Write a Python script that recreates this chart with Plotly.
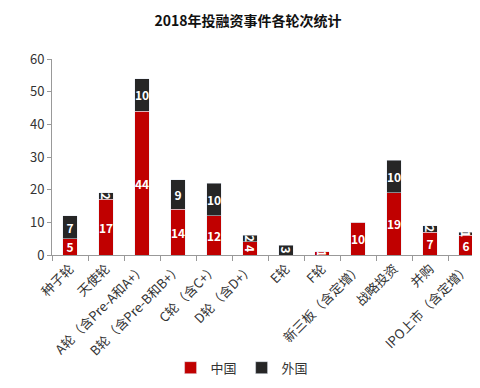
import plotly.graph_objects as go

categories = ["种子轮", "天使轮", "A轮（含Pre-A和A+）", "B轮（含Pre-B和B+）", "C轮（含C+）",
              "D轮（含D+）", "E轮", "F轮", "新三板（含定增）", "战略投资", "并购", "IPO上市（含定增）"]
china = [5, 17, 44, 14, 12, 4, 0, 1, 10, 19, 7, 6]
foreign = [7, 2, 10, 9, 10, 2, 3, 0, 0, 10, 2, 1]
y_ticks = [0, 10, 20, 30, 40, 50, 60]

FONT = "Noto Sans CJK SC"

fig = go.Figure()
fig.add_trace(go.Bar(x=categories, y=china, name="中国", marker_color="#C00000",
                     text=[str(v) if v else "" for v in china], textposition="inside",
                     insidetextanchor="middle",
                     textfont=dict(color="white", size=12, family=FONT, weight="bold")))
fig.add_trace(go.Bar(x=categories, y=foreign, name="外国", marker_color="#262626",
                     text=[str(v) if v else "" for v in foreign], textposition="inside",
                     insidetextanchor="middle",
                     textfont=dict(color="white", size=12, family=FONT, weight="bold")))

fig.update_layout(
    barmode="stack",
    bargap=0.6,
    width=480, height=388,
    margin=dict(l=44, r=4, t=51, b=141),
    paper_bgcolor="white", plot_bgcolor="white",
    font=dict(family=FONT, size=13, color="#333333"),
    title=dict(text="<b>2018年投融资事件各轮次统计</b>", x=0.5, xanchor="center", y=0.965,
               yanchor="middle", font=dict(size=14, color="#111111", family=FONT)),
    legend=dict(orientation="h", x=0.44, xanchor="center", y=-0.575, yanchor="middle",
                traceorder="normal", font=dict(size=13, color="#333333"), itemwidth=30),
    uniformtext=dict(minsize=12, mode="show"),
    showlegend=True,
)
fig.update_xaxes(showline=True, linecolor="#999999", ticks="outside", tickson="boundaries",
                 ticklen=5, tickcolor="#999999", tickangle=-45, tickfont=dict(size=13, color="#333333"))
fig.update_yaxes(range=[0, 60], tickvals=y_ticks, showline=True, linecolor="#999999",
                 ticks="outside", ticklen=4, tickcolor="#999999", showgrid=False, zeroline=False,
                 tickfont=dict(size=13, color="#333333"))

fig.write_html("out.html")
